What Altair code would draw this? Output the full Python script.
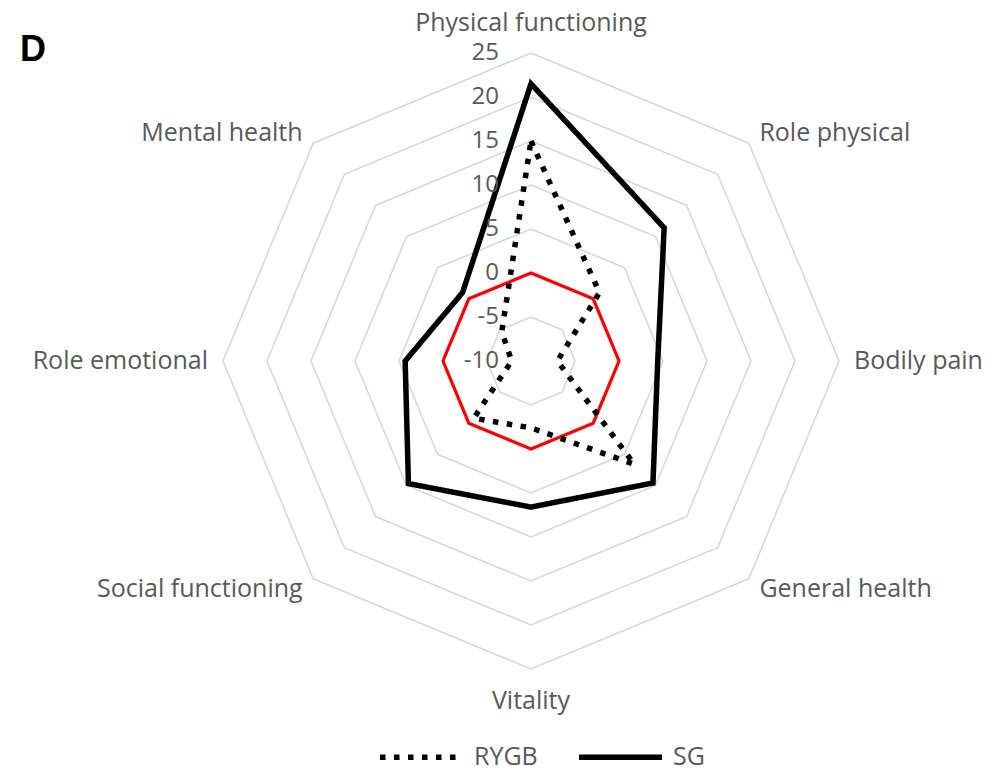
import math
import pandas as pd
import altair as alt

# ---------------- data ----------------
categories = ["Physical functioning", "Role physical", "Bodily pain", "General health",
              "Vitality", "Social functioning", "Role emotional", "Mental health"]
rygb = [15.0, 1.0, -7.0, 6.6, -2.4, -0.8, -7.8, -5.3]
sg = [21.5, 11.4, 4.4, 9.6, 6.6, 9.7, 4.3, 1.0]
series_names = ["RYGB", "SG"]
ring_values = [-5, 0, 5, 10, 15, 20, 25]
tick_values = [25, 20, 15, 10, 5, 0, -5, -10]
tick_labels = ["25", "20", "15", "10", "5", "0", "-5", "-10"]
reference_value = 0
AXIS_MIN, AXIS_MAX = -10, 25

# ---------------- layout ----------------
W, H = 976, 759
CX, CY = 523, 353          # centre of the radar in plot pixels
PX = 8.8                   # pixels per value unit
xd = [-CX / PX, (W - CX) / PX]
yd = [-(H - CY) / PX, CY / PX]
GRAY = "#595959"
FONT = "Open Sans"
SYM = 83                   # legend symbol length in px

n = len(categories)
angles = [2 * math.pi * i / n for i in range(n)]


def polar(v, i):
    r = v - AXIS_MIN
    return r * math.sin(angles[i]), r * math.cos(angles[i])


rows = []
for name, vals in zip(series_names, [rygb, sg]):
    for i, v in enumerate(vals):
        x, y = polar(v, i)
        rows.append({"series": name, "category": categories[i], "value": v, "idx": i, "x": x, "y": y})
series_df = pd.DataFrame(rows)

ring_rows = []
for rv in ring_values:
    for i in range(n):
        x, y = polar(rv, i)
        ring_rows.append({"ring": rv, "idx": i, "x": x, "y": y})
ring_df = pd.DataFrame(ring_rows)

ref_rows = []
for i in range(n):
    x, y = polar(reference_value, i)
    ref_rows.append({"idx": i, "x": x, "y": y})
ref_df = pd.DataFrame(ref_rows)

lab_rows = []
R = AXIS_MAX - AXIS_MIN
for i, c in enumerate(categories):
    s, co = math.sin(angles[i]), math.cos(angles[i])
    vertical = abs(s) < 0.01
    if vertical:
        pad = (30 if co > 0 else 32) / PX
    else:
        pad = 15 / PX
    align = "center" if vertical else ("left" if s > 0 else "right")
    lab_rows.append({"label": c, "x": (R + pad) * s, "y": (R + pad) * co, "align": align})
lab_df = pd.DataFrame(lab_rows)

tick_df = pd.DataFrame({"t": tick_values, "label": tick_labels})
tick_df["x"] = 0.0
tick_df["y"] = tick_df["t"] - AXIS_MIN

X = lambda: alt.X("x:Q", scale=alt.Scale(domain=xd, nice=False, zero=False), axis=None)
Y = lambda: alt.Y("y:Q", scale=alt.Scale(domain=yd, nice=False, zero=False), axis=None)

grid = alt.Chart(ring_df).mark_line(interpolate="linear-closed", stroke="#d9d9d9", strokeWidth=1.6).encode(
    x=X(), y=Y(), detail="ring:N", order="idx:Q")

red = alt.Chart(ref_df).mark_line(interpolate="linear-closed", stroke="#ff0000", strokeWidth=3.2).encode(
    x=X(), y=Y(), order="idx:Q")

lines = alt.Chart(series_df).mark_line(interpolate="linear-closed", stroke="black", strokeWidth=5.5,
                                       strokeJoin="miter").encode(
    x=X(), y=Y(), order="idx:Q",
    strokeDash=alt.StrokeDash("series:N",
                              scale=alt.Scale(domain=series_names, range=[[5.5, 8.5], [1, 0]]),
                              legend=alt.Legend(orient="none", legendX=369, legendY=746 - SYM / 2,
                                                direction="horizontal", title=None,
                                                symbolType="stroke", symbolSize=SYM * SYM,
                                                symbolStrokeWidth=5.5, symbolStrokeColor="black",
                                                labelFont=FONT, labelFontSize=25, labelColor=GRAY,
                                                labelOffset=8, columnPadding=30, padding=0)))

ticks = alt.Chart(tick_df).mark_text(align="right", baseline="middle", dx=-32, font=FONT,
                                     fontSize=24, color=GRAY).encode(x=X(), y=Y(), text="label:N")

label_layers = []
for al in ["left", "center", "right"]:
    label_layers.append(
        alt.Chart(lab_df[lab_df["align"] == al]).mark_text(
            align=al, baseline="middle", font=FONT, fontSize=25, color=GRAY
        ).encode(x=X(), y=Y(), text="label:N"))

chart = alt.layer(grid, red, lines, ticks, *label_layers).properties(
    width=W, height=H, padding=0, autosize=alt.AutoSizeParams(type="none"),
    title=alt.TitleParams("D", anchor="start", font="Liberation Sans", fontSize=36, fontWeight="bold",
                          color="black", baseline="alphabetic", offset=0, dx=12, dy=89)
).configure_view(stroke=None)

chart.save("out.html", embed_options={"renderer": "svg", "actions": False})
